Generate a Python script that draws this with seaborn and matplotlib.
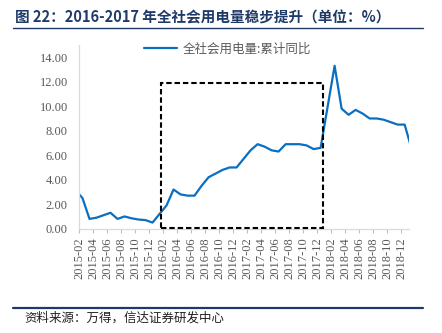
import numpy as np
import pandas as pd
import matplotlib
matplotlib.use("Agg")
import matplotlib.pyplot as plt
from matplotlib.patches import Rectangle
from matplotlib.lines import Line2D
import seaborn as sns

# Monthly cumulative YoY growth of total electricity consumption (%).
# January is not published separately (Jan-Feb combined), so it is left empty.
months = [
    "2014-12",
    "2015-01", "2015-02", "2015-03", "2015-04", "2015-05", "2015-06",
    "2015-07", "2015-08", "2015-09", "2015-10", "2015-11", "2015-12",
    "2016-01", "2016-02", "2016-03", "2016-04", "2016-05", "2016-06",
    "2016-07", "2016-08", "2016-09", "2016-10", "2016-11", "2016-12",
    "2017-01", "2017-02", "2017-03", "2017-04", "2017-05", "2017-06",
    "2017-07", "2017-08", "2017-09", "2017-10", "2017-11", "2017-12",
    "2018-01", "2018-02", "2018-03", "2018-04", "2018-05", "2018-06",
    "2018-07", "2018-08", "2018-09", "2018-10", "2018-11", "2018-12",
    "2019-01", "2019-02",
]
growth = [
    3.8,
    None, 2.5, 0.8, 0.9, 1.1, 1.3,
    0.8, 1.0, 0.85, 0.75, 0.7, 0.5,
    None, 1.9, 3.2, 2.8, 2.7, 2.7,
    3.5, 4.2, 4.5, 4.8, 5.0, 5.0,
    None, 6.4, 6.9, 6.7, 6.4, 6.3,
    6.9, 6.9, 6.9, 6.8, 6.5, 6.6,
    None, 13.3, 9.8, 9.3, 9.7, 9.4,
    9.0, 9.0, 8.9, 8.7, 8.5, 8.5,
    None, 4.5,
]
series_name = "全社会用电量:累计同比"
axis_start, axis_end = "2015-02", "2018-12"
highlight_start, highlight_end = "2016-01", "2017-12"

title = "图 22：2016-2017 年全社会用电量稳步提升（单位：%）"
source = "资料来源：万得，信达证券研发中心"

sns.set_theme(style="white")
plt.rcParams["font.family"] = ["Noto Sans CJK SC", "DejaVu Sans"]

base = pd.Period(axis_start, freq="M")


def month_pos(m):
    return (pd.Period(m, freq="M") - base).n


df = pd.DataFrame({"month": months, "growth": growth})
df["x"] = df["month"].map(month_pos)
df = df.dropna(subset=["growth"])

fig = plt.figure(figsize=(4.42, 3.33), dpi=100)
ax = fig.add_axes([0.1787, 0.3132, 0.925 - 0.1787, 0.8649 - 0.3132])

blue = "#0A6FC2"
gray_txt = "#595959"
navy = "#1F3A68"

sns.lineplot(data=df, x="x", y="growth", ax=ax, color=blue, lw=1.6,
             sort=True, legend=False)

# tick marks sit on bin edges, every second month is labelled
tick_months = pd.period_range(axis_start, axis_end, freq="M")[::2]
tick_pos = [month_pos(str(p)) - 0.5 for p in tick_months]
ax.set_xticks(tick_pos)
ax.set_xticklabels([p.strftime("%Y-%m") for p in tick_months], rotation=90,
                   family="Liberation Serif", fontsize=9, color=gray_txt)
ax.set_xlim(-0.5, month_pos(axis_end) + 0.6)

ax.set_ylim(0, 15)
ax.set_yticks(np.arange(0, 15, 2))
ax.set_yticklabels([f"{v:.2f}" for v in np.arange(0, 15, 2)],
                   family="Liberation Serif", fontsize=9, color=gray_txt)

ax.set_xlabel("")
ax.set_ylabel("")
for side in ("top", "right"):
    ax.spines[side].set_visible(False)
for side in ("left", "bottom"):
    ax.spines[side].set_color("#D9D9D9")
    ax.spines[side].set_linewidth(0.9)
ax.tick_params(axis="x", length=3, width=0.8, color="#BFBFBF", pad=3,
               direction="out", bottom=True)
ax.tick_params(axis="y", length=0, pad=8)

# dashed frame around the 2016-2017 period
x0 = month_pos(highlight_start) + 0.15
x1 = month_pos(highlight_end) + 0.35
rect = Rectangle((x0, 0.08), x1 - x0, 11.9 - 0.08, fill=False,
                 edgecolor="black", lw=1.5, linestyle=(0, (2.6, 1.4)),
                 zorder=3, clip_on=False)
ax.add_patch(rect)

handle = Line2D([], [], color=blue, lw=1.6)
fig.legend([handle], [series_name], loc="center", bbox_to_anchor=(0.515, 0.853),
           frameon=False, handlelength=2.6, handletextpad=0.5,
           prop={"family": ["Noto Sans CJK SC", "DejaVu Sans"], "size": 9},
           labelcolor=gray_txt)

# heading and footer
fig.text(0.033, 0.949, title, fontsize=10.5, fontweight="bold", color=navy,
         ha="left", va="center")
fig.add_artist(Line2D([0.03, 0.957], [0.916, 0.916], color=navy, lw=1.0,
                      transform=fig.transFigure))
fig.add_artist(Line2D([0.03, 0.957], [0.074, 0.074], color=navy, lw=1.6,
                      transform=fig.transFigure))
fig.text(0.055, 0.045, source, fontsize=9, color="#222222", ha="left",
         va="center", style="italic")

fig.savefig("out.png", dpi=100)
